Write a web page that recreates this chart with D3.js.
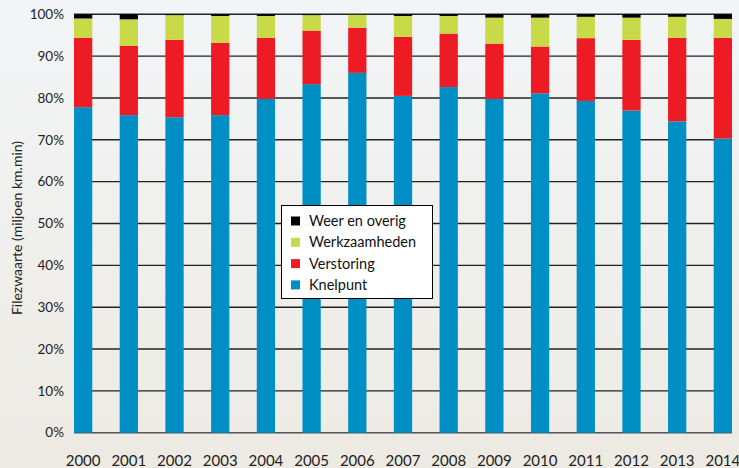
<!DOCTYPE html>
<html><head><meta charset="utf-8">
<script src="https://cdn.jsdelivr.net/npm/d3@7"></script>
<style>html,body{margin:0;padding:0;background:#fff;}svg{display:block;}</style>
</head><body>
<script>
const years = ["2000","2001","2002","2003","2004","2005","2006","2007","2008","2009","2010","2011","2012","2013","2014"];
const knelpunt      = [77.8,75.9,75.4,75.9,79.8,83.3,86.0,80.5,82.6,79.8,81.1,79.3,77.0,74.4,70.3];
const verstoring    = [16.6,16.6,18.5,17.3,14.6,12.8,10.8,14.1,12.8,13.2,11.2,15.0,16.9,20.0,24.1];
const werkzaamheden = [4.6,6.3,5.9,6.4,5.2,3.7,3.1,5.0,4.2,6.2,6.9,5.1,5.3,5.0,4.5];
const weerEnOverig  = [1.0,1.2,0.2,0.4,0.4,0.2,0.1,0.4,0.4,0.8,0.8,0.6,0.8,0.6,1.1];
const seriesNames = ["Knelpunt","Verstoring","Werkzaamheden","Weer en overig"];
const seriesColors = ["#008fc5","#ed1c24","#c8da48","#000000"];
const yTicks = [0,10,20,30,40,50,60,70,80,90,100];
const yTitle = "Filezwaarte (miljoen km.min)";

const W = 739, H = 468;
const m = {left:74, right:7, top:14.3, bottom:35.3};
const font = "Lato, 'Open Sans', sans-serif";

const svg = d3.select("body").append("svg").attr("width",W).attr("height",H);
const defs = svg.append("defs");
const grad = defs.append("linearGradient").attr("id","bg").attr("x1",0).attr("y1",0).attr("x2",0).attr("y2",1);
grad.append("stop").attr("offset","0%").attr("stop-color","#f2f5f7");
grad.append("stop").attr("offset","100%").attr("stop-color","#edeae3");
svg.append("rect").attr("width",W).attr("height",H).attr("fill","url(#bg)");

const x = d3.scaleBand().domain(years).range([m.left, W-m.right]).paddingInner(0.6).paddingOuter(0);
const y = d3.scaleLinear().domain([0,100]).range([H-m.bottom, m.top]);

// gridlines
svg.append("g").selectAll("line").data(yTicks).join("line")
  .attr("x1", m.left).attr("x2", W-m.right)
  .attr("y1", d=>y(d)).attr("y2", d=>y(d))
  .attr("stroke", d=> d===0 ? "#555" : "#222").attr("stroke-width",1.4);

// y tick labels
svg.append("g").selectAll("text").data(yTicks).join("text")
  .attr("x", 64).attr("y", d=>y(d)).attr("dy","0.35em")
  .attr("text-anchor","end").attr("font-family",font).attr("font-size",13.5)
  .attr("fill","#222").text(d=>d+"%");

// stacked data
const rows = years.map((yr,i)=>({year:yr, Knelpunt:knelpunt[i], Verstoring:verstoring[i], Werkzaamheden:werkzaamheden[i], "Weer en overig":weerEnOverig[i]}));
const stack = d3.stack().keys(seriesNames)(rows);
svg.append("g").selectAll("g").data(stack).join("g")
  .attr("fill",(d,i)=>seriesColors[i])
  .selectAll("rect").data(d=>d).join("rect")
  .attr("x", d=>x(d.data.year)).attr("width", x.bandwidth())
  .attr("y", d=>y(d[1])).attr("height", d=>y(d[0])-y(d[1]));

// x labels
svg.append("g").selectAll("text").data(years).join("text")
  .attr("x", d=>x(d)+x.bandwidth()/2).attr("y", 466)
  .attr("text-anchor","middle").attr("font-family",font).attr("font-size",15)
  .attr("fill","#222").text(d=>d);

// y title
svg.append("text").attr("transform","translate(22,228) rotate(-90)")
  .attr("text-anchor","middle").attr("font-family",font).attr("font-size",14)
  .attr("fill","#222").text(yTitle);

// legend
const lg = svg.append("g");
lg.append("rect").attr("x",281.5).attr("y",205.5).attr("width",151).attr("height",93)
  .attr("fill","#fff").attr("stroke","#000").attr("stroke-width",1);
const legendOrder = [3,2,1,0];
legendOrder.forEach((si,k)=>{
  const cy = 221 + k*21.3;
  lg.append("rect").attr("x",291).attr("y",cy-4.5).attr("width",9).attr("height",9).attr("fill",seriesColors[si]);
  lg.append("text").attr("x",309).attr("y",cy).attr("dy","0.35em")
    .attr("font-family",font).attr("font-size",14.5).attr("fill","#111").text(seriesNames[si]);
});
</script>
</body></html>
